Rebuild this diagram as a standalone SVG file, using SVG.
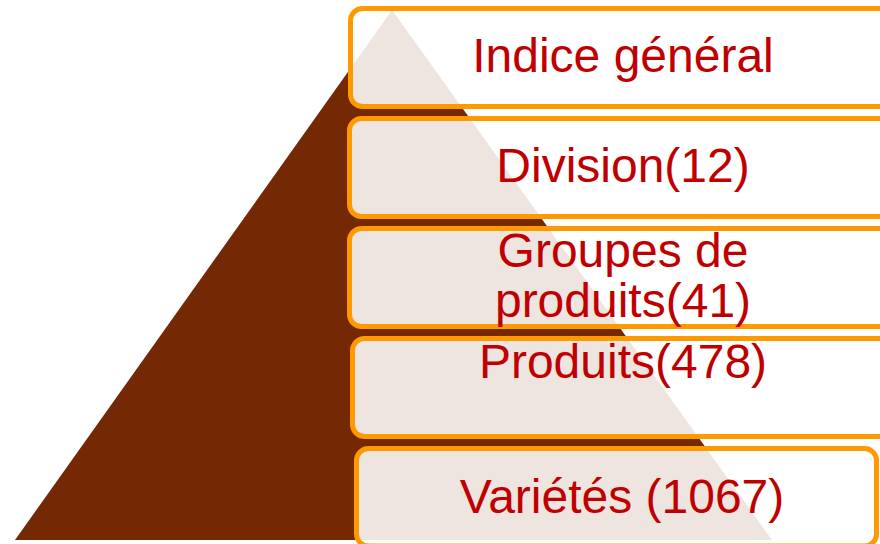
<svg xmlns="http://www.w3.org/2000/svg" width="880" height="544" viewBox="0 0 880 544">
  <style>
    .box { fill: #FFFFFF; fill-opacity: 0.88; stroke: #FF9900; stroke-width: 5; }
    .lbl { font-family: "Liberation Sans", Arial, sans-serif; font-size: 48px; fill: #C00000; text-anchor: middle; }
  </style>
  <rect width="880" height="544" fill="#FFFFFF"/>
  <g id="pyramid">
    <polygon points="392,10 15,540 772,540" fill="#742804"/>
  </g>
  <g id="connectors"></g>
  <g id="node-indice">
    <rect class="box" x="350.5" y="8.5" width="560" height="98" rx="12" ry="12"/>
    <text class="lbl" x="623" y="72">Indice général</text>
  </g>
  <g id="node-division">
    <rect class="box" x="349.5" y="118.5" width="560" height="98" rx="12" ry="12"/>
    <text class="lbl" x="623" y="182">Division(12)</text>
  </g>
  <g id="node-groupes">
    <rect class="box" x="349.5" y="228.5" width="560" height="98" rx="12" ry="12"/>
    <text class="lbl" x="623" y="267">Groupes de</text>
    <text class="lbl" x="623" y="317">produits(41)</text>
  </g>
  <g id="node-produits">
    <rect class="box" x="352.5" y="338.5" width="560" height="98" rx="12" ry="12"/>
    <text class="lbl" x="623" y="378">Produits(478)</text>
  </g>
  <g id="node-varietes">
    <rect class="box" x="356.5" y="448.5" width="520" height="97.5" rx="12" ry="12"/>
    <text class="lbl" x="622" y="513">Variétés (1067)</text>
  </g>
</svg>
